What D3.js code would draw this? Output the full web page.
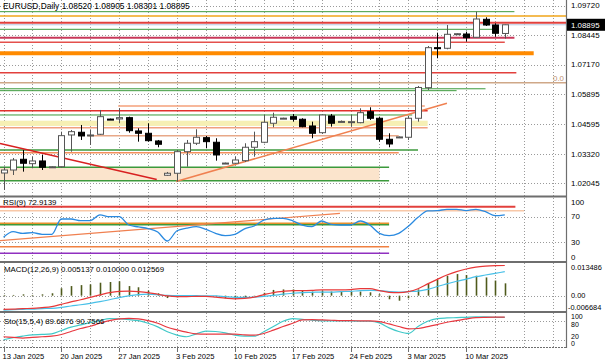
<!DOCTYPE html>
<html>
<head>
<meta charset="utf-8">
<script src="https://cdn.jsdelivr.net/npm/d3@7/dist/d3.min.js"></script>
<style>
  html, body { margin: 0; padding: 0; background: #fff; }
  svg { display: block; font-family: "Liberation Sans", Arial, sans-serif; }
</style>
</head>
<body>
<svg id="chart" width="605" height="363"></svg>
<script>
// ---- data ----
const symbolTitle = 'EURUSD,Daily  1.08520 1.08905 1.08301 1.08895';
const weekLabels = ['13 Jan 2025', '20 Jan 2025', '27 Jan 2025', '3 Feb 2025', '10 Feb 2025',
  '17 Feb 2025', '24 Feb 2025', '3 Mar 2025', '10 Mar 2025'];
const barsPerWeek = 6; // broker shows a short Sunday bar

// open, high, low, close
const candles = [
  [1.02491, 1.02764, 1.01758, 1.02620], [1.02620, 1.03139, 1.02404, 1.03052],
  [1.03084, 1.03486, 1.02549, 1.02912], [1.02894, 1.03197, 1.02696, 1.03011],
  [1.03011, 1.03270, 1.02620, 1.02739], [1.02740, 1.02780, 1.02720, 1.02760],
  [1.02764, 1.04277, 1.02720, 1.04104], [1.04134, 1.04350, 1.03413, 1.04277],
  [1.04251, 1.04566, 1.03918, 1.04091], [1.04091, 1.04350, 1.03702, 1.04134],
  [1.04164, 1.05214, 1.04134, 1.04925], [1.04820, 1.04840, 1.04790, 1.04800],
  [1.04826, 1.05288, 1.04640, 1.04882], [1.04882, 1.04925, 1.04233, 1.04320],
  [1.04307, 1.04424, 1.03845, 1.04207], [1.04207, 1.04640, 1.03845, 1.03888],
  [1.03875, 1.03918, 1.03603, 1.03732], [1.02393, 1.02536, 1.02363, 1.02480],
  [1.02480, 1.03486, 1.02117, 1.03413], [1.03413, 1.03918, 1.02764, 1.03776],
  [1.03776, 1.04380, 1.03702, 1.04035], [1.04018, 1.04091, 1.03559, 1.03845],
  [1.03819, 1.03992, 1.03024, 1.03270], [1.02900, 1.02940, 1.02880, 1.02920],
  [1.02912, 1.03197, 1.02881, 1.03054], [1.03024, 1.03776, 1.02968, 1.03603],
  [1.03603, 1.04277, 1.03197, 1.03845], [1.03819, 1.04998, 1.03776, 1.04683],
  [1.04640, 1.05097, 1.04467, 1.04899], [1.04850, 1.04880, 1.04830, 1.04860],
  [1.04925, 1.05041, 1.04709, 1.04813], [1.04813, 1.04856, 1.04467, 1.04493],
  [1.04523, 1.04709, 1.03992, 1.04207], [1.04233, 1.05010, 1.04177, 1.04998],
  [1.04955, 1.05041, 1.04493, 1.04640], [1.04700, 1.04760, 1.04680, 1.04720],
  [1.04666, 1.04998, 1.04493, 1.04709], [1.04666, 1.05288, 1.04640, 1.05098],
  [1.05141, 1.05331, 1.04782, 1.04856], [1.04856, 1.04925, 1.03845, 1.03948],
  [1.03948, 1.04207, 1.03603, 1.03745], [1.04020, 1.04070, 1.04000, 1.04050],
  [1.04035, 1.04955, 1.03918, 1.04856], [1.04856, 1.06251, 1.04709, 1.06186],
  [1.06178, 1.07979, 1.06078, 1.07906], [1.07906, 1.08554, 1.07448, 1.07862],
  [1.07880, 1.08886, 1.07836, 1.08484], [1.08480, 1.08530, 1.08460, 1.08510],
  [1.08497, 1.08597, 1.08165, 1.08338], [1.08355, 1.09461, 1.08338, 1.09145],
  [1.09132, 1.09219, 1.08843, 1.08886], [1.08886, 1.08960, 1.08381, 1.08528],
  [1.08520, 1.08905, 1.08301, 1.08895]
];
const lastPrice = 1.08895;
const priceTicks = [1.09720, 1.08445, 1.07170, 1.05895, 1.04595, 1.03320, 1.02045];
const priceDomain = [1.01497, 1.09966];

// horizontal objects: [price, fromBar, toBar]
const priceLevels = [
  [1.09461, -1, 53], [1.09275, -1, 60], [1.08986, -1, 60], [1.08700, -1, 51.3],
  [1.08338, -1, 53], [1.08139, -1, 52], [1.07664, -1, 55], [1.06826, -1, 53.2],
  [1.06394, -1, 60], [1.06130, -1, 50], [1.06048, -1, 47], [1.05387, 11.9, 43.7],
  [1.05184, -1, 44], [1.04998, -1, 42.4], [1.04450, -1, 44], [1.04104, 8.8, 41],
  [1.03486, -1, 43], [1.03370, -1, 41], [1.02739, -1, 40], [1.02160, -1, 40]
];
// shaded zones: [priceA, priceB, fromBar, toBar]
const priceZones = [[1.04752, 1.04523, -1, 44], [1.02739, 1.02160, -1, 39]];
// trend lines: [bar1, price1, bar2, price2]
const priceTrends = [[-0.36, 1.03767, 15.9, 1.02212], [17.9, 1.02125, 46, 1.05504]];

const rsiValues = [38, 46.6, 44, 45, 42.5, 42.5, 66.4, 66.4, 63.8, 63.8, 72.7, 70, 70, 57, 54,
  51.5, 46, 32, 48, 52, 54.4, 50.3, 44, 40.3, 42.5, 51, 55.5, 64.8, 67.5, 67.5, 63.5, 57,
  54.4, 63.3, 58, 57, 57, 63.3, 57, 44, 40.3, 44, 55, 69, 79, 79.4, 81.6, 81.6, 79.4, 81.6,
  77.8, 71.6, 72.9139];
const rsiTicks = [100, 70, 30, 0];
const rsiLevels = [[85.6, -1, 53.1], [79.4, -1, 54], [59.7, -1, 40], [57.6, -1, 40],
  [23.1, -1, 40], [12.8, -1, 40]];
const rsiTrend = [-0.36, 32.5, 34.9, 75.3];

const macdMain = [-0.0057, -0.0056, -0.0054, -0.0053, -0.0050, -0.0046, -0.0036, -0.0026,
  -0.0017, -0.0007, 0.0003, 0.0013, 0.0018, 0.0019, 0.0017, 0.0013, 0.0006, -0.0001, -0.0004,
  -0.0004, -0.0003, -0.0003, -0.0006, -0.0010, -0.0013, -0.0011, -0.0006, 0.0004, 0.0013,
  0.0018, 0.0021, 0.0021, 0.0022, 0.0024, 0.0024, 0.0024, 0.0025, 0.0029, 0.0029, 0.0021,
  0.0014, 0.0013, 0.0017, 0.0029, 0.0049, 0.0068, 0.0086, 0.0100, 0.0111, 0.0119, 0.0123,
  0.0125, 0.012569];
const macdSignal = [-0.0060, -0.0058, -0.0057, -0.0056, -0.0054, -0.0053, -0.0049, -0.0043,
  -0.0038, -0.0032, -0.0025, -0.0017, -0.0008, -0.0001, 0.0004, 0.0006, 0.0004, 0.0001, 0,
  0, 0, -0.0001, -0.0001, -0.0004, -0.0007, -0.0007, -0.0006, -0.0003, 0.0001, 0.0006,
  0.0010, 0.0013, 0.0014, 0.0015, 0.0015, 0.0017, 0.0018, 0.0021, 0.0022, 0.0021, 0.0017,
  0.0015, 0.0017, 0.0019, 0.0026, 0.0038, 0.0049, 0.0060, 0.0069, 0.0079, 0.0086, 0.0093,
  0.010000];
const macdHist = [0.0003, 0.0003, 0.00055, 0.0003, 0.00055, 0.001, 0.0031, 0.004, 0.0044,
  0.0047, 0.0054, 0.0057, 0.006, 0.004, 0.0035, 0.0021, 0.001, -0.001, -0.0007, -0.0004,
  -0.0001, 0.00005, -0.0001, -0.0011, -0.0014, -0.0007, -0.0001, 0.0012, 0.0024, 0.0026,
  0.0026, 0.0021, 0.0017, 0.0021, 0.0017, 0.0017, 0.0017, 0.0017, 0.0014, 0.0006, -0.0015,
  -0.0021, -0.0011, 0.0026, 0.0051, 0.0068, 0.0083, 0.009, 0.0086, 0.0083, 0.0076, 0.0063,
  0.005137];
const macdTicks = [0.013486, 0, -0.006684];

const stoMain = [22, 28, 33, 37, 38, 40, 50, 60, 67, 74, 80, 86, 85, 83, 80, 72, 61, 46, 36,
  31, 40, 48, 47, 43, 36, 33, 33, 46, 62, 78, 86, 84, 81, 79, 79, 79, 79, 78, 78, 73, 58, 47,
  41, 62, 78, 86, 88, 89, 90, 91, 91, 90, 89.6876];
const stoSignal = [31, 29, 27, 29, 31, 33, 38, 47, 56, 63, 72, 80, 85, 87, 85, 80, 72, 60, 52,
  45, 40, 39, 39, 39, 39, 37, 36, 41, 51, 62, 72, 82, 83, 82, 81, 80, 80, 79, 79, 77, 70, 62,
  55, 56, 62, 68, 75, 80, 85, 89, 90, 90.5, 90.7566];
const stoTicks = [100, 80, 20, 0];

// ---- layout ----
const plotRight = 566;
const panels = {
  main: [0, 196], rsi: [198, 261], macd: [263, 311], sto: [313, 347]
};
const svg = d3.select('#chart');
const fontSize = 7.9;

const x = d3.scaleLinear().domain([0, 57]).range([3.5, 3.5 + 9.64 * 57]);
const yMain = d3.scaleLinear().domain(priceDomain).range([panels.main[1], panels.main[0]]);
const yRsi = d3.scaleLinear().domain([0, 100]).range([261.5, 197.5]);
const yMacd = d3.scaleLinear().domain([-0.006684, 0.013486]).range([311.7, 263.3]);
const yAxisZero = yMacd(0);
const ySto = d3.scaleLinear().domain([0, 100]).range([347, 314]);

const defs = svg.append('defs');
Object.entries(panels).forEach(([k, p]) => {
  defs.append('clipPath').attr('id', 'clip-' + k)
    .append('rect').attr('x', 0).attr('y', p[0]).attr('width', plotRight).attr('height', p[1] - p[0]);
});

// vertical dotted grid every 3 bars
const gridBars = d3.range(0, 58, 3);
const grid = svg.append('g')
  .attr('stroke', '#9a9a9a').attr('stroke-dasharray', '1,2').attr('stroke-width', 1);
Object.values(panels).forEach(p => {
  grid.append('g').selectAll('line').data(gridBars).join('line')
    .attr('x1', d => Math.round(x(d)) + 0.5).attr('x2', d => Math.round(x(d)) + 0.5)
    .attr('y1', p[0]).attr('y2', p[1]);
});

function hGrid(values, scale) {
  grid.append('g').selectAll('line').data(values).join('line')
    .attr('x1', 0).attr('x2', plotRight)
    .attr('y1', d => Math.round(scale(d)) + 0.5).attr('y2', d => Math.round(scale(d)) + 0.5);
}
hGrid(priceTicks, yMain);
hGrid([70, 30], yRsi);
hGrid([0], yMacd);
hGrid([80, 20], ySto);

// ---- main chart objects ----
const main = svg.append('g').attr('clip-path', 'url(#clip-main)');
const zoneColors = ['#f6efb4', '#fbe4cc'];
main.append('g').selectAll('rect').data(priceZones).join('rect')
  .attr('x', d => x(d[2])).attr('width', d => x(d[3]) - x(d[2]))
  .attr('y', d => yMain(Math.max(d[0], d[1])))
  .attr('height', d => Math.abs(yMain(d[0]) - yMain(d[1])))
  .attr('fill', (d, i) => zoneColors[i]);

const levelStyles = [
  ['#3c9a3c', 1], ['#f0a418', 1.5], ['#e2403c', 2], ['#3c9a3c', 1], ['#c8385a', 2],
  ['#e4504c', 1.5], ['#ff8a00', 4], ['#e2403c', 1.5], ['#cfa888', 1.5], ['#3c9a3c', 1],
  ['#3c9a3c', 1], ['#f4a07a', 1.5], ['#e2302c', 1.5], ['#3c9a3c', 1], ['#f0a080', 1.5],
  ['#e8a888', 1.5], ['#3c9a3c', 1.5], ['#f4905c', 1.5], ['#3c9a3c', 1.5], ['#3c9a3c', 1.5]
];
main.append('g').selectAll('line').data(priceLevels).join('line')
  .attr('x1', d => x(d[1])).attr('x2', d => x(d[2]))
  .attr('y1', d => yMain(d[0])).attr('y2', d => yMain(d[0]))
  .attr('stroke', (d, i) => levelStyles[i][0])
  .attr('stroke-width', (d, i) => levelStyles[i][1]);

main.append('g').selectAll('line').data(priceTrends).join('line')
  .attr('x1', d => x(d[0])).attr('y1', d => yMain(d[1]))
  .attr('x2', d => x(d[2])).attr('y2', d => yMain(d[3]))
  .attr('stroke', (d, i) => i === 0 ? '#d82020' : '#f08050')
  .attr('stroke-width', 1.5);

// ask/price line
main.append('line')
  .attr('x1', 0).attr('x2', plotRight)
  .attr('y1', yMain(lastPrice)).attr('y2', yMain(lastPrice))
  .attr('stroke', '#b8c8e0').attr('stroke-width', 1);

// candles
const candleG = main.append('g');
candleG.selectAll('line').data(candles).join('line')
  .attr('x1', (d, i) => Math.round(x(i)) + 0.5).attr('x2', (d, i) => Math.round(x(i)) + 0.5)
  .attr('y1', d => yMain(d[1])).attr('y2', d => yMain(d[2]))
  .attr('stroke', d => d[3] >= d[0] ? '#555' : '#000');
candleG.selectAll('rect').data(candles).join('rect')
  .attr('x', (d, i) => Math.round(x(i)) - 2.5)
  .attr('width', 6)
  .attr('y', d => yMain(Math.max(d[0], d[3])))
  .attr('height', d => Math.max(1, Math.abs(yMain(d[0]) - yMain(d[3]))))
  .attr('fill', d => d[3] >= d[0] ? '#fff' : '#000')
  .attr('stroke', d => d[3] >= d[0] ? '#555' : '#000')
  .attr('stroke-width', 1);

// fibo "0.0" tag
svg.append('text').attr('x', plotRight - 2).attr('y', yMain(priceLevels[8][0]) - 2)
  .attr('text-anchor', 'end').attr('font-size', fontSize).attr('fill', '#c09070').text('0.0');

svg.append('text').attr('x', 3).attr('y', 9).attr('font-size', 8.4)
  .attr('fill', '#000').text(symbolTitle);

// ---- RSI ----
const rsiG = svg.append('g').attr('clip-path', 'url(#clip-rsi)');
const rsiLevelStyles = [['#e2403c', 2], ['#f8c8a8', 1.5], ['#e8902c', 1.5], ['#3c9a3c', 1.5],
  ['#f08040', 1.5], ['#9030c0', 1.5]];
rsiG.append('g').selectAll('line').data(rsiLevels).join('line')
  .attr('x1', d => x(d[1])).attr('x2', d => x(d[2]))
  .attr('y1', d => yRsi(d[0])).attr('y2', d => yRsi(d[0]))
  .attr('stroke', (d, i) => rsiLevelStyles[i][0])
  .attr('stroke-width', (d, i) => rsiLevelStyles[i][1]);
rsiG.append('line')
  .attr('x1', x(rsiTrend[0])).attr('y1', yRsi(rsiTrend[1]))
  .attr('x2', x(rsiTrend[2])).attr('y2', yRsi(rsiTrend[3]))
  .attr('stroke', '#f08050').attr('stroke-width', 1.2);
rsiG.append('path').datum(rsiValues)
  .attr('d', d3.line().x((d, i) => x(i)).y(d => yRsi(d)).curve(d3.curveMonotoneX))
  .attr('fill', 'none').attr('stroke', '#2a8ae0').attr('stroke-width', 1.3);
svg.append('text').attr('x', 3).attr('y', 205).attr('font-size', fontSize)
  .text('RSI(9) 72.9139');

// ---- MACD ----
const macdG = svg.append('g').attr('clip-path', 'url(#clip-macd)');
macdG.append('g').selectAll('line').data(macdHist).join('line')
  .attr('x1', (d, i) => Math.round(x(i)) + 0.5).attr('x2', (d, i) => Math.round(x(i)) + 0.5)
  .attr('y1', yAxisZero).attr('y2', d => yMacd(d))
  .attr('stroke', '#4f5a1c').attr('stroke-width', 1.6);
macdG.append('path').datum(macdSignal)
  .attr('d', d3.line().x((d, i) => x(i)).y(d => yMacd(d)).curve(d3.curveMonotoneX))
  .attr('fill', 'none').attr('stroke', '#48c0e8').attr('stroke-width', 1.2);
macdG.append('path').datum(macdMain)
  .attr('d', d3.line().x((d, i) => x(i)).y(d => yMacd(d)).curve(d3.curveMonotoneX))
  .attr('fill', 'none').attr('stroke', '#e83838').attr('stroke-width', 1.2);
svg.append('text').attr('x', 4).attr('y', 272).attr('font-size', fontSize)
  .text('MACD(12,26,9) 0.005137 0.010000 0.012569');

// ---- Stochastic ----
const stoG = svg.append('g').attr('clip-path', 'url(#clip-sto)');
stoG.append('path').datum(stoMain)
  .attr('d', d3.line().x((d, i) => x(i)).y(d => ySto(d)).curve(d3.curveMonotoneX))
  .attr('fill', 'none').attr('stroke', '#40c8c8').attr('stroke-width', 1.2);
stoG.append('path').datum(stoSignal)
  .attr('d', d3.line().x((d, i) => x(i)).y(d => ySto(d)).curve(d3.curveMonotoneX))
  .attr('fill', 'none').attr('stroke', '#e83840').attr('stroke-width', 1.2);
svg.append('text').attr('x', 4).attr('y', 324).attr('font-size', fontSize)
  .text('Sto(15,5,4) 89.6876 90.7566');

// ---- frames / separators ----
const frame = svg.append('g').attr('stroke', '#6e6e6e');
[196.5, 262, 312].forEach(yv => {
  frame.append('line').attr('x1', 0).attr('x2', plotRight + 1).attr('y1', yv).attr('y2', yv)
    .attr('stroke-width', 2);
});
frame.append('line').attr('x1', 0).attr('x2', plotRight + 1).attr('y1', 347.5).attr('y2', 347.5)
  .attr('stroke-width', 1.2).attr('stroke-dasharray', '2,1');
frame.append('line').attr('x1', plotRight + 0.5).attr('x2', plotRight + 0.5)
  .attr('y1', 0).attr('y2', 348).attr('stroke-width', 1.2);

// ---- right axes labels ----
function axisLabels(values, scale, panel, fmt, size, left) {
  svg.append('g').selectAll('text').data(values).join('text')
    .attr('x', d => plotRight + (left ? left(d) : 5))
    .attr('y', d => Math.min(panel[1] - 4.5, Math.max(panel[0] + 4.5, scale(d))))
    .attr('dy', '0.35em').attr('font-size', size || fontSize).attr('fill', '#000')
    .text(fmt);
}
axisLabels(priceTicks, yMain, panels.main, d => d.toFixed(5));
axisLabels(rsiTicks, yRsi, [197.5, 261.5], d => d);
axisLabels(macdTicks, yMacd, [263, 311.5], d => d === 0 ? '0.00' : d.toFixed(6), 7.4,
  d => d < 0 ? 2 : 5);
// the stochastic window is too short for four labels: keep them apart by a font height
const stoLabelY = d3.scaleLinear().domain([0, 100]).range([343.5, 317]);
svg.append('g').selectAll('text').data(stoTicks).join('text')
  .attr('x', plotRight + 5)
  .attr('y', d => d === 80 ? stoLabelY(100) + 7.2 : d === 20 ? stoLabelY(0) - 7.2 : stoLabelY(d))
  .attr('dy', '0.35em').attr('font-size', 7).attr('fill', '#000')
  .text(d => d);

// current price tag
const tagY = yMain(lastPrice);
svg.append('rect').attr('x', plotRight + 1).attr('y', tagY - 6).attr('width', 605 - plotRight)
  .attr('height', 12).attr('fill', '#000');
svg.append('text').attr('x', plotRight + 5).attr('y', tagY).attr('dy', '0.35em')
  .attr('font-size', fontSize).attr('fill', '#fff').text(lastPrice.toFixed(5));

// ---- date axis ----
const dateG = svg.append('g');
dateG.selectAll('line').data(weekLabels).join('line')
  .attr('x1', (d, i) => Math.round(x(i * barsPerWeek)) + 0.5)
  .attr('x2', (d, i) => Math.round(x(i * barsPerWeek)) + 0.5)
  .attr('y1', 348).attr('y2', 352).attr('stroke', '#6e6e6e');
dateG.selectAll('text').data(weekLabels).join('text')
  .attr('x', (d, i) => x(i * barsPerWeek) - 1)
  .attr('y', 359).attr('font-size', 7.6).attr('fill', '#000')
  .text(d => d);
</script>
</body>
</html>
